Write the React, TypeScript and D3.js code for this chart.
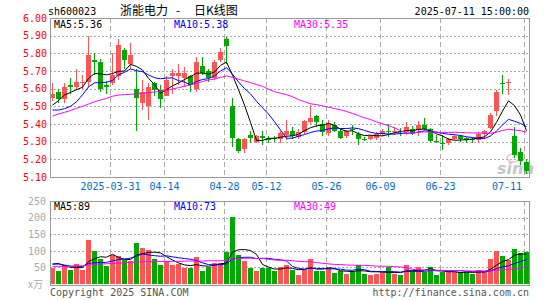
import React from "react";
import * as d3 from "d3";

const dates = [
  "2025-03-17","2025-03-18","2025-03-19","2025-03-20","2025-03-21","2025-03-24","2025-03-25","2025-03-26","2025-03-27","2025-03-28",
  "2025-03-31","2025-04-01","2025-04-02","2025-04-03","2025-04-07","2025-04-08","2025-04-09","2025-04-10","2025-04-11","2025-04-14",
  "2025-04-15","2025-04-16","2025-04-17","2025-04-18","2025-04-21","2025-04-22","2025-04-23","2025-04-24","2025-04-25","2025-04-28",
  "2025-04-29","2025-04-30","2025-05-06","2025-05-07","2025-05-08","2025-05-09","2025-05-12","2025-05-13","2025-05-14","2025-05-15",
  "2025-05-16","2025-05-19","2025-05-20","2025-05-21","2025-05-22","2025-05-23","2025-05-26","2025-05-27","2025-05-28","2025-05-29",
  "2025-05-30","2025-06-03","2025-06-04","2025-06-05","2025-06-06","2025-06-09","2025-06-10","2025-06-11","2025-06-12","2025-06-13",
  "2025-06-16","2025-06-17","2025-06-18","2025-06-19","2025-06-20","2025-06-23","2025-06-24","2025-06-25","2025-06-26","2025-06-27",
  "2025-06-30","2025-07-01","2025-07-02","2025-07-03","2025-07-04","2025-07-07","2025-07-08","2025-07-09","2025-07-10","2025-07-11",
];

const opens = [
  5.55,5.58,5.54,5.62,5.61,5.63,5.64,5.76,5.75,5.62,
  5.63,5.67,5.82,5.74,5.60,5.52,5.50,5.63,5.59,5.56,
  5.67,5.67,5.66,5.67,5.60,5.73,5.70,5.66,5.76,5.88,
  5.50,5.315,5.26,5.34,5.30,5.33,5.32,5.32,5.315,5.34,
  5.36,5.325,5.355,5.412,5.445,5.40,5.35,5.392,5.362,5.332,
  5.37,5.345,5.315,5.317,5.321,5.345,5.36,5.357,5.36,5.357,
  5.37,5.364,5.392,5.37,5.306,5.29,5.294,5.313,5.33,5.321,
  5.315,5.308,5.345,5.379,5.474,5.63,5.634,5.33,5.242,5.185,
];
const highs = [
  5.63,5.60,5.63,5.66,5.71,5.68,5.90,5.80,5.77,5.645,
  5.80,5.88,5.83,5.86,5.71,5.65,5.63,5.64,5.62,5.67,
  5.71,5.74,5.72,5.68,5.78,5.78,5.71,5.76,5.83,5.89,
  5.55,5.32,5.32,5.36,5.34,5.36,5.33,5.33,5.36,5.42,
  5.383,5.374,5.421,5.51,5.449,5.42,5.42,5.41,5.373,5.365,
  5.396,5.355,5.326,5.34,5.355,5.374,5.402,5.383,5.377,5.41,
  5.387,5.415,5.434,5.377,5.336,5.34,5.321,5.34,5.336,5.326,
  5.321,5.355,5.368,5.462,5.59,5.676,5.653,5.383,5.264,5.20,
];
const lows = [
  5.53,5.52,5.52,5.57,5.59,5.60,5.61,5.68,5.58,5.57,
  5.62,5.65,5.71,5.71,5.36,5.48,5.42,5.56,5.49,5.56,
  5.57,5.62,5.61,5.58,5.58,5.68,5.64,5.65,5.75,5.74,
  5.27,5.235,5.235,5.295,5.29,5.28,5.29,5.30,5.29,5.31,
  5.313,5.317,5.345,5.402,5.383,5.33,5.33,5.355,5.317,5.32,
  5.336,5.28,5.302,5.308,5.31,5.332,5.326,5.336,5.332,5.336,
  5.336,5.332,5.364,5.298,5.29,5.251,5.28,5.308,5.298,5.29,
  5.294,5.29,5.317,5.37,5.445,5.572,5.562,5.208,5.166,5.119,
];
const closes = [
  5.57,5.54,5.61,5.61,5.64,5.64,5.79,5.75,5.60,5.61,
  5.68,5.85,5.76,5.79,5.55,5.58,5.61,5.59,5.54,5.65,
  5.69,5.69,5.69,5.62,5.75,5.69,5.66,5.75,5.81,5.84,
  5.32,5.25,5.315,5.32,5.33,5.32,5.31,5.315,5.35,5.36,
  5.33,5.355,5.415,5.434,5.412,5.355,5.40,5.362,5.321,5.358,
  5.366,5.317,5.31,5.332,5.345,5.36,5.357,5.36,5.357,5.383,
  5.351,5.396,5.37,5.304,5.302,5.287,5.313,5.332,5.313,5.308,
  5.31,5.345,5.36,5.453,5.581,5.625,5.638,5.223,5.19,5.132,
];
const volumes = [
  48,40,58,43,61,43,133,98,76,53,
  88,85,71,70,124,107,103,76,58,68,
  56,59,47,47,82,40,52,64,64,97,
  202,88,68,49,40,49,49,38,50,58,
  41,28,43,76,38,40,48,33,40,31,
  38,58,30,28,30,36,50,30,26,56,
  40,50,36,50,26,35,38,36,36,35,
  30,43,38,76,98,83,73,104,94,96,
];

// moving-average values before the first full window
const ma5Lead = [5.507,5.532,5.564,5.579];
const ma10Lead = [5.479,5.479,5.487,5.50,5.526,5.565,5.61,5.633,5.635];
const ma30Lead = [5.445,5.457,5.466,5.476,5.489,5.50,5.513,5.526,5.536,5.545,5.557,5.564,5.566,5.568,5.57,5.574,5.577,5.581,5.585,5.59,5.598,5.606,5.613,5.621,5.632,5.64,5.649,5.655,5.664];
const volMa5Lead = [60,62,55,50];
const volMa10Lead = [60,60,57,54,53,53,62,64,64];
const volMa30Lead = [53,53,53,53,54,55,57,59,60,61,62,63,64,65,66,67,67,68,68,68,68,68,69,69,69,69,70,70,70];

const tickDates = ["2025-03-31","2025-04-14","2025-04-28","2025-05-12","2025-05-26","2025-06-09","2025-06-23","2025-07-11"];
const priceTicks = [5.1,5.2,5.3,5.4,5.5,5.6,5.7,5.8,5.9,6.0];
const volTicks = [50,100,150,200,250];

const priceLegend = [
  { label: "MA5:5.36", color: "#000000" },
  { label: "MA10:5.38", color: "#0000ff" },
  { label: "MA30:5.35", color: "#ff00ff" },
];
const volLegend = [
  { label: "MA5:89", color: "#000000" },
  { label: "MA10:73", color: "#0000ff" },
  { label: "MA30:49", color: "#ff00ff" },
];

function movingAvg(values: number[], n: number, lead: number[]): number[] {
  return values.map((_, i) => (i < n - 1 ? lead[i] : (d3.mean(values.slice(i - n + 1, i + 1)) as number)));
}

const UP = "#ff5454";
const DOWN = "#00a800";
const MONO = "'DejaVu Sans Mono', monospace";
const CJK = "'Noto Sans CJK SC', sans-serif";

export default function App() {
  const L = 50, R = 529;
  const pTop = 18, pBot = 177;
  const vTop = 201, vBot = 284;

  const x = d3.scaleBand<string>().domain(dates).range([49.5, 529.5]).paddingInner(1 / 6).paddingOuter(1 / 12);
  const bw = x.bandwidth();
  const cx = (d: string) => (x(d) as number) + bw / 2;
  const yP = d3.scaleLinear().domain([5.1, 6.0]).range([pBot, pTop]);
  const yV = d3.scaleLinear().domain([0, 250]).range([vBot, vTop]);

  const ma = [
    { vals: movingAvg(closes, 5, ma5Lead), color: "#000000" },
    { vals: movingAvg(closes, 10, ma10Lead), color: "#0000ff" },
    { vals: movingAvg(closes, 30, ma30Lead), color: "#ff00ff" },
  ];
  const vma = [
    { vals: movingAvg(volumes, 5, volMa5Lead), color: "#000000" },
    { vals: movingAvg(volumes, 10, volMa10Lead), color: "#0000ff" },
    { vals: movingAvg(volumes, 30, volMa30Lead), color: "#ff00ff" },
  ];
  const lineP = d3.line<number>().x((_, i) => cx(dates[i])).y((v) => yP(v));
  const lineV = d3.line<number>().x((_, i) => cx(dates[i])).y((v) => yV(v));

  const snap = (v: number) => Math.round(v) + 0.5;
  const isUp = (i: number) => closes[i] >= opens[i];

  return (
    <svg width={545} height={300} style={{ position: "fixed", left: 0, top: 0, background: "#fff" }}>
      <rect x={0} y={0} width={545} height={300} fill="#fff" />
      <defs>
        <clipPath id="clipP"><rect x={L} y={pTop} width={R - L} height={pBot - pTop} /></clipPath>
        <clipPath id="clipV"><rect x={L} y={vTop} width={R - L} height={vBot - vTop} /></clipPath>
      </defs>

      {/* header */}
      <text x={48} y={15} fontFamily={MONO} fontSize={10} fill="#000">sh600023</text>
      <text x={120} y={15} fontFamily={CJK} fontSize={12} fill="#000">浙能电力</text>
      <text x={178} y={15} fontFamily={CJK} fontSize={12} fill="#000" textAnchor="middle">-</text>
      <text x={194} y={15} fontFamily={CJK} fontSize={12} fill="#000">日K线图</text>
      <text x={529} y={15} fontFamily={MONO} fontSize={10} fill="#000" textAnchor="end">2025-07-11 15:00:00</text>

      {/* price grid */}
      {priceTicks.filter((t) => t > 5.1 && t < 6.0).map((t) => (
        <line key={"pg" + t} x1={L} x2={R} y1={snap(yP(t))} y2={snap(yP(t))} stroke="#aaa" strokeDasharray="2,2" />
      ))}
      {tickDates.map((d) => (
        <line key={"pv" + d} x1={(x(d) as number) + 0.5} x2={(x(d) as number) + 0.5} y1={pTop} y2={pBot} stroke="#aaa" strokeDasharray="5,3" />
      ))}
      {priceTicks.map((t) => (
        <text key={"pl" + t} x={47} y={yP(t) + 3.7} fontFamily={MONO} fontSize={10} fill="#ff0000" textAnchor="end">{t.toFixed(2)}</text>
      ))}
      {tickDates.map((d, i) => {
        const last = i === tickDates.length - 1;
        return (
          <text key={"xl" + d} x={last ? 522 : (x(d) as number) + 0.5} y={189.5} fontFamily={MONO} fontSize={10} fill="#0070c0" textAnchor={last ? "end" : "middle"}>
            {i === 0 ? d : d.slice(5)}
          </text>
        );
      })}

      {/* watermark */}
      <g opacity={0.55}>
        <ellipse cx={513} cy={158} rx={6} ry={4} fill="none" stroke="#e89090" strokeWidth={1.5} />
        <text x={497} y={174} fontFamily="'DejaVu Sans', sans-serif" fontSize={16} fontStyle="italic" fontWeight="bold" fill="#9a9a9a">sina</text>
      </g>

      {/* candles */}
      <g clipPath="url(#clipP)" shapeRendering="crispEdges">
        {dates.map((d, i) => {
          const col = isUp(i) ? UP : DOWN;
          const yT = yP(Math.max(opens[i], closes[i]));
          const yB = yP(Math.min(opens[i], closes[i]));
          return (
            <g key={"c" + d}>
              <line x1={cx(d)} x2={cx(d)} y1={yP(highs[i])} y2={yP(lows[i])} stroke={col} strokeWidth={1} />
              <rect x={x(d)} y={yT} width={bw} height={Math.max(1, yB - yT)} fill={col} />
            </g>
          );
        })}
      </g>
      <g clipPath="url(#clipP)">
        {ma.map((m, k) => (
          <path key={"ma" + k} d={lineP(m.vals) as string} fill="none" stroke={m.color} strokeWidth={1} />
        ))}
      </g>
      <rect x={L + 0.5} y={pTop + 0.5} width={R - L} height={pBot - pTop} fill="none" stroke="#999" strokeWidth={1} shapeRendering="crispEdges" />
      {priceLegend.map((g, k) => (
        <text key={"lg" + k} x={[54, 174, 294][k]} y={28} fontFamily={MONO} fontSize={10} fill={g.color}>{g.label}</text>
      ))}

      {/* volume grid */}
      {volTicks.filter((t) => t < 250).map((t) => (
        <line key={"vg" + t} x1={L} x2={R} y1={snap(yV(t))} y2={snap(yV(t))} stroke="#aaa" strokeDasharray="2,2" />
      ))}
      {tickDates.map((d) => (
        <line key={"vv" + d} x1={(x(d) as number) + 0.5} x2={(x(d) as number) + 0.5} y1={vTop} y2={vBot} stroke="#aaa" strokeDasharray="5,3" />
      ))}
      {volTicks.map((t) => (
        <text key={"vl" + t} x={46} y={yV(t) + 3.7} fontFamily={MONO} fontSize={10} fill="#aaa" textAnchor="end">{t}</text>
      ))}
      <text x={28} y={288} fontFamily={CJK} fontSize={10} fill="#aaa">x万</text>

      <g clipPath="url(#clipV)" shapeRendering="crispEdges">
        {dates.map((d, i) => (
          <rect key={"v" + d} x={x(d)} y={yV(volumes[i])} width={bw} height={yV(0) - yV(volumes[i]) + 1} fill={isUp(i) ? UP : DOWN} />
        ))}
      </g>
      <g clipPath="url(#clipV)">
        {vma.map((m, k) => (
          <path key={"vma" + k} d={lineV(m.vals) as string} fill="none" stroke={m.color} strokeWidth={1} />
        ))}
      </g>
      <rect x={L + 0.5} y={vTop + 0.5} width={R - L} height={vBot - vTop + 1} fill="none" stroke="#999" strokeWidth={1} shapeRendering="crispEdges" />
      {volLegend.map((g, k) => (
        <text key={"vlg" + k} x={[54, 174, 294][k]} y={210} fontFamily={MONO} fontSize={10} fill={g.color}>{g.label}</text>
      ))}

      {/* footer */}
      <text x={50} y={295.5} fontFamily={MONO} fontSize={10} fill="#555">Copyright 2025 SINA.COM</text>
      <text x={529} y={295.5} fontFamily={MONO} fontSize={10} fill="#555" textAnchor="end">http://finance.sina.com.cn</text>
    </svg>
  );
}
